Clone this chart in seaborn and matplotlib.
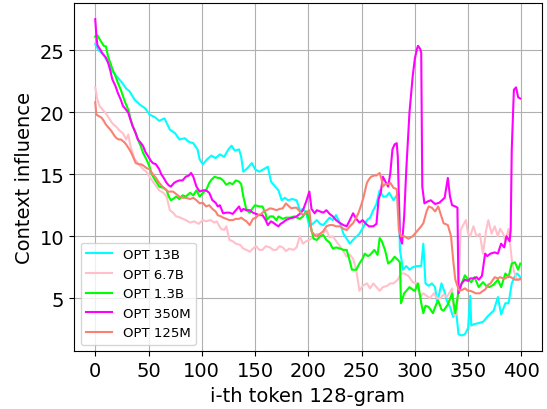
import numpy as np
import pandas as pd
import matplotlib
matplotlib.use("Agg")
import matplotlib.pyplot as plt
import seaborn as sns

series_names = ["OPT 13B", "OPT 6.7B", "OPT 1.3B", "OPT 350M", "OPT 125M"]
series_colors = ["#00FFFF", "#FFC0CB", "#00FF00", "#FF00FF", "#FA8072"]

tok_13b = [0, 3, 8, 12, 16, 20, 25, 29, 32, 37, 42, 47, 51, 56, 60, 65, 70, 75, 79, 84, 88, 92, 96, 98, 101, 105, 109, 113, 117, 121, 125, 128, 131, 135, 137, 139, 143, 147, 150, 154, 158, 162, 165, 168, 172, 175, 178, 181, 185, 189, 192, 195, 198, 201, 204, 208, 211, 214, 217, 220, 223, 226, 230, 233, 236, 239, 243, 248, 252, 255, 258, 261, 264, 267, 270, 273, 276, 280, 283, 285, 286, 289, 292, 295, 298, 302, 306, 308, 310, 313, 316, 319, 321, 325, 328, 330, 333, 336, 339, 341, 344, 347, 350, 352, 353, 355, 360, 364, 369, 374, 378, 381, 385, 388, 391, 394, 396, 399]
val_13b = [25.5, 25.0, 24.6, 24.0, 23.3, 22.9, 22.4, 21.9, 21.7, 21.0, 20.6, 20.3, 19.8, 19.6, 19.3, 19.5, 18.6, 18.3, 17.8, 17.9, 17.6, 17.5, 17.0, 16.2, 15.8, 16.2, 16.5, 16.3, 16.6, 16.4, 17.0, 17.3, 16.9, 17.0, 16.4, 15.2, 15.5, 15.9, 15.4, 15.2, 15.4, 15.6, 14.4, 14.1, 13.7, 12.9, 13.1, 12.9, 13.0, 12.9, 12.1, 12.2, 11.9, 10.8, 11.0, 11.3, 11.0, 10.9, 11.2, 11.5, 11.3, 11.7, 11.0, 10.2, 9.8, 9.4, 9.8, 10.2, 10.8, 11.3, 11.5, 12.1, 12.6, 13.7, 13.2, 13.2, 13.5, 12.9, 13.3, 13.4, 8.9, 7.3, 7.6, 7.3, 7.5, 7.6, 7.6, 9.4, 6.2, 6.0, 6.2, 5.9, 4.6, 6.2, 5.5, 4.8, 4.3, 3.5, 3.8, 2.1, 2.0, 2.1, 2.6, 5.2, 2.8, 2.9, 3.0, 3.1, 3.6, 4.0, 5.1, 3.7, 4.6, 4.6, 6.2, 6.8, 7.0, 6.7]

tok_6_7b = [0, 2, 4, 7, 10, 13, 16, 20, 23, 26, 29, 31, 33, 37, 41, 45, 48, 51, 55, 60, 64, 67, 70, 73, 76, 80, 85, 89, 93, 97, 101, 104, 108, 112, 114, 118, 121, 123, 126, 129, 132, 136, 139, 142, 145, 148, 151, 154, 157, 160, 164, 167, 170, 173, 176, 179, 182, 186, 189, 192, 195, 198, 201, 204, 208, 212, 217, 220, 223, 227, 230, 233, 236, 239, 242, 245, 248, 251, 255, 258, 261, 264, 267, 270, 274, 277, 280, 284, 287, 290, 294, 298, 302, 305, 308, 311, 314, 318, 321, 324, 327, 330, 333, 335, 337, 339, 341, 343, 346, 348, 350, 352, 355, 358, 361, 364, 367, 369, 372, 375, 378, 380, 383, 385, 388, 391, 393, 396, 399]
val_6_7b = [22.0, 21.0, 20.5, 20.2, 19.9, 19.5, 19.1, 18.8, 18.5, 18.3, 17.8, 18.2, 17.3, 16.2, 15.8, 15.4, 15.2, 14.8, 14.3, 13.7, 13.5, 13.2, 12.1, 11.9, 11.6, 11.5, 11.3, 11.1, 11.2, 11.0, 11.3, 11.2, 11.3, 11.1, 11.2, 10.6, 10.5, 10.8, 9.7, 9.6, 9.4, 9.3, 9.0, 8.9, 8.75, 9.0, 9.2, 8.9, 8.9, 9.2, 9.1, 8.9, 8.9, 9.2, 9.1, 8.8, 9.0, 8.9, 9.1, 10.0, 9.4, 9.6, 9.7, 9.9, 10.2, 10.1, 10.5, 9.9, 10.0, 9.5, 9.15, 8.8, 8.35, 8.5, 8.2, 7.3, 5.6, 6.0, 6.2, 5.8, 6.2, 5.9, 5.6, 5.9, 6.0, 6.2, 6.2, 6.5, 7.0, 7.0, 6.8, 6.3, 6.2, 5.1, 5.4, 5.2, 5.0, 5.4, 5.0, 5.0, 5.3, 5.1, 5.5, 5.8, 3.6, 3.7, 5.5, 10.5, 11.0, 11.3, 10.2, 10.0, 10.8, 10.0, 10.2, 8.6, 10.5, 11.3, 10.2, 10.8, 10.0, 10.6, 10.2, 9.6, 10.6, 8.1, 7.2, 6.5, 6.5]

tok_1_3b = [0, 2, 5, 8, 10, 12, 14, 16, 19, 21, 24, 26, 28, 31, 33, 35, 38, 40, 43, 45, 48, 51, 53, 56, 58, 60, 64, 67, 69, 71, 73, 76, 79, 82, 85, 89, 92, 95, 98, 101, 104, 107, 109, 112, 115, 117, 120, 123, 126, 129, 132, 135, 137, 139, 142, 145, 148, 150, 154, 157, 160, 161, 164, 167, 170, 172, 176, 179, 183, 187, 192, 195, 198, 201, 203, 205, 208, 211, 214, 217, 220, 223, 226, 230, 233, 236, 238, 241, 245, 248, 251, 253, 256, 258, 262, 265, 267, 269, 272, 275, 278, 281, 284, 286, 287, 290, 293, 295, 298, 300, 303, 306, 308, 310, 313, 317, 320, 322, 325, 327, 331, 335, 338, 341, 344, 347, 350, 353, 356, 360, 364, 367, 370, 374, 378, 381, 385, 388, 391, 394, 397, 399]
val_1_3b = [26.1, 26.2, 25.75, 25.35, 25.3, 24.5, 24.0, 23.5, 22.9, 22.4, 21.8, 21.3, 20.8, 20.2, 19.5, 18.9, 18.3, 17.8, 17.2, 16.7, 16.2, 15.6, 15.0, 14.55, 14.3, 14.0, 13.9, 13.7, 13.2, 12.9, 13.0, 13.2, 13.0, 13.3, 13.2, 13.5, 13.3, 13.7, 13.2, 13.5, 13.7, 14.3, 14.55, 14.8, 14.7, 14.7, 14.5, 14.15, 14.3, 14.2, 14.5, 14.4, 14.2, 13.2, 12.1, 11.9, 12.3, 12.5, 12.4, 12.4, 11.8, 11.3, 11.6, 11.6, 11.3, 11.6, 11.4, 11.5, 11.5, 11.6, 11.4, 11.6, 12.0, 11.3, 10.5, 9.8, 9.7, 10.0, 10.1, 9.7, 9.5, 9.0, 9.1, 9.0, 8.9, 8.9, 8.3, 7.3, 7.3, 7.8, 8.2, 8.6, 8.4, 8.5, 8.9, 8.5, 9.85, 9.6, 8.9, 7.8, 8.0, 8.35, 8.1, 7.9, 4.6, 5.4, 5.7, 5.9, 5.7, 5.6, 6.2, 4.6, 3.8, 4.4, 4.3, 3.8, 4.5, 4.8, 4.1, 4.0, 4.5, 5.4, 3.8, 5.6, 6.2, 6.85, 6.5, 6.3, 6.7, 5.9, 6.3, 6.0, 5.9, 6.1, 6.5, 5.9, 7.0, 6.7, 7.8, 7.9, 7.3, 7.8]

tok_350m = [0, 1, 2, 5, 7, 10, 12, 14, 16, 19, 21, 24, 26, 28, 31, 33, 35, 38, 40, 43, 45, 47, 50, 52, 54, 57, 60, 62, 65, 67, 69, 71, 74, 76, 79, 82, 85, 88, 90, 92, 95, 98, 101, 104, 107, 110, 113, 115, 117, 120, 123, 126, 129, 132, 135, 137, 139, 142, 145, 148, 151, 154, 157, 160, 162, 165, 167, 170, 172, 174, 176, 179, 183, 186, 189, 192, 195, 198, 201, 203, 206, 208, 211, 214, 217, 220, 223, 226, 230, 233, 236, 239, 242, 245, 248, 251, 254, 257, 261, 264, 266, 268, 270, 273, 275, 277, 279, 281, 283, 284, 286, 288, 290, 292, 295, 298, 300, 302, 303, 305, 306, 307, 309, 312, 315, 319, 323, 328, 331, 333, 335, 338, 340, 341, 344, 347, 350, 352, 355, 358, 360, 363, 366, 368, 371, 375, 378, 381, 384, 386, 389, 390, 391, 393, 395, 397, 399]
val_350m = [27.5, 26.2, 25.4, 25.0, 24.7, 24.4, 24.0, 23.4, 22.65, 22.1, 21.6, 21.0, 20.5, 20.3, 19.95, 19.4, 18.9, 18.3, 17.8, 17.5, 17.25, 16.8, 16.4, 16.1, 15.9, 15.8, 15.4, 15.0, 14.6, 14.3, 14.1, 14.0, 14.3, 14.4, 14.5, 14.5, 14.8, 14.9, 15.1, 14.8, 14.0, 13.6, 13.7, 13.7, 13.5, 12.9, 12.7, 12.4, 12.5, 11.85, 11.9, 11.9, 11.8, 12.1, 12.4, 12.0, 12.2, 12.1, 12.1, 11.9, 11.8, 11.7, 11.7, 11.3, 10.9, 11.2, 11.1, 10.9, 10.8, 11.0, 11.1, 11.3, 11.45, 11.5, 11.6, 11.8, 12.1, 12.8, 13.6, 12.2, 11.85, 12.1, 12.0, 11.9, 12.1, 11.8, 11.6, 11.3, 11.05, 10.9, 10.8, 11.3, 11.85, 11.4, 11.1, 11.3, 11.0, 10.8, 10.8, 11.0, 13.0, 13.5, 14.8, 14.3, 14.0, 15.1, 17.0, 17.4, 17.5, 16.45, 10.0, 9.4, 11.6, 15.4, 20.0, 22.9, 24.3, 25.1, 25.35, 25.1, 24.8, 14.0, 12.65, 12.8, 12.9, 12.6, 12.7, 13.1, 14.7, 13.2, 12.5, 12.4, 12.3, 5.4, 6.2, 6.5, 6.4, 6.6, 6.6, 6.7, 6.5, 6.8, 8.6, 8.4, 8.6, 8.7, 8.6, 9.4, 9.1, 10.0, 9.6, 10.5, 17.0, 21.8, 22.0, 21.2, 21.1]

tok_125m = [0, 1, 3, 6, 8, 10, 13, 15, 18, 20, 22, 24, 27, 29, 32, 34, 36, 38, 41, 43, 45, 48, 51, 54, 57, 60, 63, 66, 68, 71, 73, 76, 79, 82, 85, 89, 92, 95, 98, 101, 104, 107, 110, 113, 115, 118, 120, 123, 126, 129, 132, 135, 137, 140, 142, 145, 148, 151, 153, 156, 158, 161, 164, 167, 170, 173, 176, 179, 182, 184, 187, 189, 192, 195, 198, 201, 203, 206, 208, 211, 214, 217, 220, 223, 226, 230, 233, 236, 239, 242, 245, 247, 250, 252, 255, 257, 259, 262, 264, 267, 269, 270, 272, 275, 277, 280, 283, 285, 287, 290, 294, 298, 301, 303, 306, 308, 311, 313, 316, 319, 322, 325, 327, 331, 334, 336, 338, 340, 342, 345, 347, 350, 352, 355, 357, 361, 364, 366, 369, 371, 375, 378, 380, 383, 385, 388, 390, 394, 397, 399]
val_125m = [20.8, 19.8, 19.7, 19.55, 19.3, 19.0, 18.7, 18.5, 18.1, 17.9, 17.8, 17.8, 17.6, 17.4, 17.0, 16.7, 16.3, 15.9, 15.8, 15.8, 15.7, 15.5, 15.4, 15.0, 14.7, 14.3, 14.0, 13.8, 13.6, 13.6, 13.6, 13.4, 13.2, 13.1, 13.1, 13.0, 13.1, 12.9, 12.65, 12.7, 12.4, 12.5, 12.2, 12.0, 11.7, 11.6, 11.5, 11.4, 11.3, 11.3, 11.4, 11.4, 11.5, 11.3, 11.2, 10.9, 11.4, 11.5, 11.7, 11.8, 12.0, 12.1, 12.25, 12.2, 12.1, 12.2, 12.25, 12.65, 12.4, 12.25, 12.3, 12.3, 12.0, 11.7, 11.9, 12.1, 10.4, 10.1, 10.0, 10.2, 10.4, 10.8, 10.9, 10.9, 10.8, 10.8, 10.6, 10.5, 10.8, 11.05, 11.5, 11.85, 12.6, 13.2, 14.3, 14.6, 14.8, 14.9, 14.9, 15.1, 14.5, 14.0, 14.2, 14.2, 14.3, 13.9, 13.8, 10.5, 10.0, 10.0, 9.8, 10.0, 10.3, 10.5, 10.8, 11.05, 12.0, 12.4, 12.3, 12.0, 12.4, 11.6, 11.05, 10.9, 10.0, 8.1, 6.5, 6.0, 5.6, 5.7, 5.8, 5.6, 5.6, 5.5, 5.4, 5.4, 5.6, 5.7, 6.1, 6.2, 6.7, 6.6, 6.7, 6.6, 6.6, 6.8, 6.7, 6.5, 6.5, 6.55]

all_tokens = [tok_13b, tok_6_7b, tok_1_3b, tok_350m, tok_125m]
all_values = [val_13b, val_6_7b, val_1_3b, val_350m, val_125m]

frames = []
for name, t, v in zip(series_names, all_tokens, all_values):
    frames.append(pd.DataFrame({"token": t, "influence": v, "model": name}))
df = pd.concat(frames, ignore_index=True)

fig, ax = plt.subplots(figsize=(5.47, 4.10), dpi=100)
fig.subplots_adjust(left=0.1353, right=0.990, top=0.9895, bottom=0.1407)

sns.lineplot(data=df, x="token", y="influence", hue="model",
             hue_order=series_names, palette=dict(zip(series_names, series_colors)),
             estimator=None, linewidth=1.5, ax=ax)

ax.set_xlim(-19.95, 418.95)
ax.set_ylim(0.725, 28.775)
ax.set_xticks([0, 50, 100, 150, 200, 250, 300, 350, 400])
ax.set_yticks([5, 10, 15, 20, 25])
ax.grid(True, color="#b0b0b0", linewidth=0.8)
ax.set_axisbelow(True)
ax.tick_params(labelsize=14)
ax.set_xlabel("i-th token 128-gram", fontsize=14)
ax.set_ylabel("Context influence", fontsize=14)
leg = ax.legend(loc="lower left", fontsize=9.5, title=None)

fig.savefig("out.png", dpi=100)
